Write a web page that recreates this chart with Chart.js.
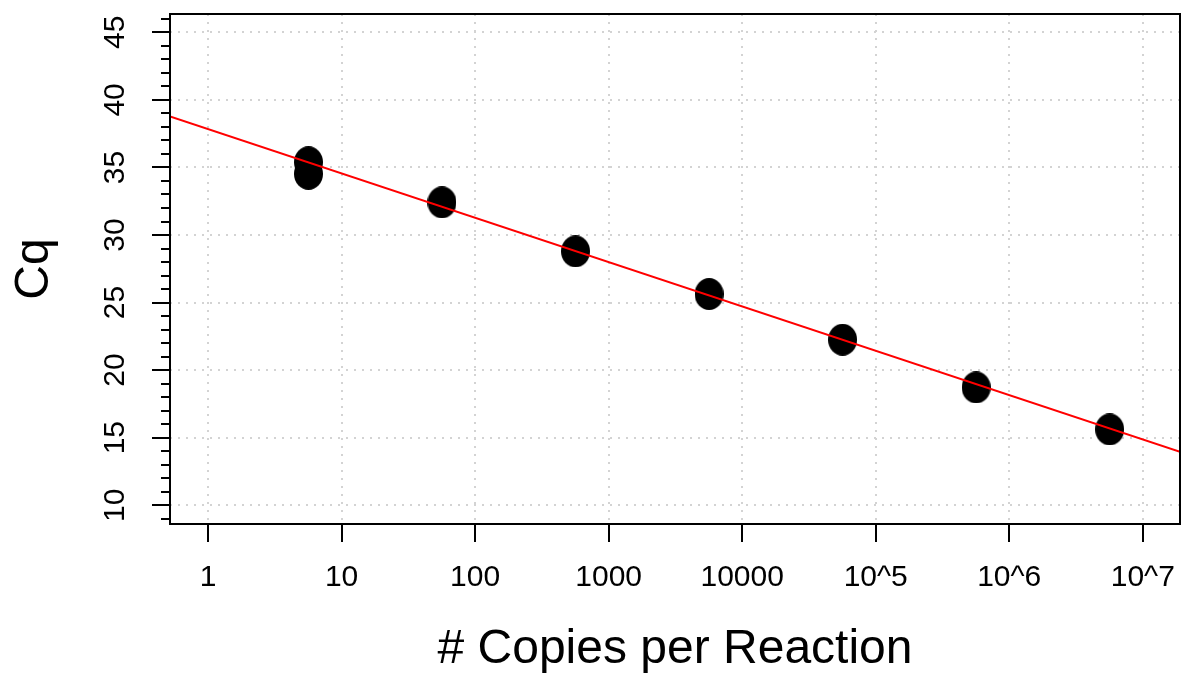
<!DOCTYPE html>
<html>
<head>
<meta charset="utf-8">
<script src="https://cdn.jsdelivr.net/npm/chart.js@4.4.1/dist/chart.umd.min.js"></script>
<style>
	body { margin: 0; background: #fff; }
	#wrap { width: 1183px; height: 679px; }
</style>
</head>
<body>
<div id="wrap"><canvas id="myChart"></canvas></div>
<script>
// measured points (copies per reaction, Cq)
const copies = [5.65, 5.65, 56.5, 565, 5650, 56500, 565000, 5650000];
const cq = [35.39, 34.53, 32.42, 28.79, 25.63, 22.25, 18.72, 15.61];

// fitted standard curve, read at the plot edges
const fitCopies = [0.519, 1.9e7];
const fitCq = [38.78, 13.95];

const xTickValues = [1, 10, 100, 1000, 10000, 1e5, 1e6, 1e7];
const xTickLabels = ["1", "10", "100", "1000", "10000", "10^5", "10^6", "10^7"];
const yTickValues = [10, 15, 20, 25, 30, 35, 40, 45];

function toPoints(xs, ys){
	let pts = [];
	for(let i = 0; i < xs.length; i++){
		pts.push({x: xs[i], y: ys[i]});
	}
	return pts;
}

function ellipseImage(w, h){
	let c = document.createElement("canvas");
	c.width = w;
	c.height = h;
	let g = c.getContext("2d");
	g.fillStyle = "#000";
	g.beginPath();
	g.ellipse(w / 2, h / 2, w / 2, h / 2, 0, 0, 2 * Math.PI);
	g.fill();
	return c;
}

// box round the plot and the short minor ticks on the y axis
const boxPlugin = {
	id: "boxPlugin",
	afterDraw(chart){
		const ctx = chart.ctx;
		const area = chart.chartArea;
		const y = chart.scales.y;
		ctx.save();
		ctx.strokeStyle = "#000";
		ctx.lineWidth = 2;
		for(let v = Math.ceil(y.min); v <= y.max; v++){
			if(v % 5 === 0) continue;
			let py = Math.round(y.getPixelForValue(v));
			ctx.beginPath();
			ctx.moveTo(area.left - 9, py);
			ctx.lineTo(area.left, py);
			ctx.stroke();
		}
		ctx.strokeRect(area.left, area.top, area.right - area.left, area.bottom - area.top);
		ctx.restore();
	}
};

const font = "'Liberation Sans', Arial, sans-serif";
const gridOpts = {
	color: "#d3d3d3",
	lineWidth: 2,
	tickColor: "#000",
	tickWidth: 2,
	tickLength: 18,
	tickBorderDash: [],
	drawTicks: true
};

const ctx = document.getElementById("myChart").getContext("2d");

let chart = new Chart(ctx, {
	type: "scatter",
	data: {
		datasets: [
			{
				label: "fit",
				type: "line",
				data: toPoints(fitCopies, fitCq),
				borderColor: "#ff0000",
				borderWidth: 2,
				pointRadius: 0,
				fill: false,
				order: 1
			},
			{
				label: "Cq",
				data: toPoints(copies, cq),
				pointStyle: ellipseImage(29, 32),
				order: 2
			}
		]
	},
	options: {
		responsive: true,
		maintainAspectRatio: false,
		animation: false,
		layout: { autoPadding: false, padding: { top: 14, right: 3, left: 0, bottom: 0 } },
		plugins: {
			legend: { display: false },
			tooltip: { enabled: false }
		},
		scales: {
			x: {
				type: "logarithmic",
				min: 0.519,
				max: 1.9e7,
				z: 1,
				border: { display: false, dash: [2, 6] },
				grid: gridOpts,
				afterBuildTicks: function(scale){
					scale.ticks = xTickValues.map(v => ({ value: v }));
				},
				afterFit: function(scale){
					scale.height = 155;
					scale.paddingLeft = 0;
					scale.paddingRight = 0;
				},
				ticks: {
					autoSkip: false,
					maxRotation: 0,
					minRotation: 0,
					padding: 18,
					color: "#000",
					font: { family: font, size: 30 },
					callback: function(value, index){ return xTickLabels[index]; }
				},
				title: {
					display: true,
					text: "# Copies per Reaction",
					color: "#000",
					font: { family: font, size: 48 },
					padding: { top: 0, bottom: 0 }
				}
			},
			y: {
				min: 8.61,
				max: 46.36,
				z: 1,
				border: { display: false, dash: [2, 6] },
				grid: gridOpts,
				afterBuildTicks: function(scale){
					scale.ticks = yTickValues.map(v => ({ value: v }));
				},
				afterFit: function(scale){
					scale.width = 170;
					scale.paddingTop = 0;
					scale.paddingBottom = 0;
				},
				ticks: {
					autoSkip: false,
					minRotation: 90,
					maxRotation: 90,
					crossAlign: "center",
					padding: 20,
					color: "#000",
					font: { family: font, size: 30 }
				},
				title: {
					display: true,
					text: "Cq",
					color: "#000",
					font: { family: font, size: 48 },
					padding: { top: 6, bottom: 0 }
				}
			}
		}
	},
	plugins: [boxPlugin]
});
</script>
</body>
</html>
